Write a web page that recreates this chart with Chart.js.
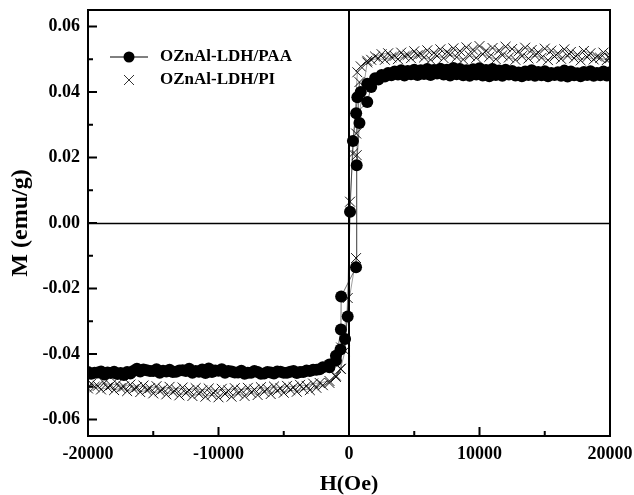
<!DOCTYPE html>
<html>
<head>
<meta charset="utf-8">
<script src="https://cdn.jsdelivr.net/npm/chart.js@4.4.1/dist/chart.umd.min.js"></script>
<style>
  body { margin: 0; background: #fff; }
  #wrap { width: 634px; height: 495px; position: relative; }
</style>
</head>
<body>
<div id="wrap"><canvas id="loop"></canvas></div>
<script>
// field sweep, +20000 -> -20000 (descending branch)
const fieldDown = [
  20000, 19500, 19000, 18500, 18000, 17500, 17000, 16500, 16000, 15500,
  15000, 14500, 14000, 13500, 13000, 12500, 12000, 11500, 11000, 10500,
  10000, 9500, 9000, 8500, 8000, 7500, 7000, 6500, 6000, 5500,
  5000, 4500, 4000, 3500, 3000, 2500, 2000,
  1400, 900, 640, 300, 80, -100, -300, -650, -1000, -1500,
  -2000, -2500, -3000, -3500, -4000, -4500, -5000, -5500, -6000, -6500,
  -7000, -7500, -8000, -8500, -9000, -9500, -10000, -10500, -11000, -11500,
  -12000, -12500, -13000, -13500, -14000, -14500, -15000, -15500, -16000, -16500,
  -17000, -17500, -18000, -18500, -19000, -19500, -20000
];
// field sweep, -20000 -> +20000 (ascending branch)
const fieldUp = [
  -19750, -19250, -18750, -18250, -17750, -17250, -16750, -16250, -15750, -15250,
  -14750, -14250, -13750, -13250, -12750, -12250, -11750, -11250, -10750, -10250,
  -9750, -9250, -8750, -8250, -7750, -7250, -6750, -6250, -5750, -5250,
  -4750, -4250, -3750, -3250, -2750, -2250,
  -1500, -1000, -620, -600, 540, 590, 800, 550, 1400, 1700,
  2250, 2750, 3250, 3750, 4250, 4750, 5250, 5750, 6250, 6750,
  7250, 7750, 8250, 8750, 9250, 9750, 10250, 10750, 11250, 11750,
  12250, 12750, 13250, 13750, 14250, 14750, 15250, 15750, 16250, 16750,
  17250, 17750, 18250, 18750, 19250, 19750, 20000
];

// OZnAl-LDH/PAA, M (emu/g)
const paaDown = [
  0.0460, 0.0462, 0.0458, 0.0463, 0.0461, 0.0457, 0.0462, 0.0465, 0.0460, 0.0458,
  0.0463, 0.0461, 0.0466, 0.0462, 0.0459, 0.0464, 0.0468, 0.0465, 0.0470, 0.0467,
  0.0472, 0.0469, 0.0466, 0.0470, 0.0473, 0.0468, 0.0471, 0.0467, 0.0470, 0.0466,
  0.0468, 0.0464, 0.0466, 0.0462, 0.0458, 0.0452, 0.0442,
  0.0425, 0.0400, 0.0384, 0.0250, 0.0034, -0.0285, -0.0354, -0.0386, -0.0405, -0.0432,
  -0.0440, -0.0448, -0.0452, -0.0455, -0.0458, -0.0454, -0.0457, -0.0453, -0.0456, -0.0459,
  -0.0455, -0.0457, -0.0460, -0.0456, -0.0453, -0.0457, -0.0451, -0.0455, -0.0458, -0.0454,
  -0.0457, -0.0452, -0.0450, -0.0455, -0.0453, -0.0457, -0.0452, -0.0449, -0.0453, -0.0451,
  -0.0455, -0.0458, -0.0454, -0.0456, -0.0453, -0.0457, -0.0455
];
const paaUp = [
  -0.0460, -0.0456, -0.0462, -0.0458, -0.0461, -0.0464, -0.0459, -0.0445, -0.0447, -0.0452,
  -0.0446, -0.0451, -0.0448, -0.0454, -0.0449, -0.0445, -0.0452, -0.0447, -0.0444, -0.0450,
  -0.0446, -0.0452, -0.0456, -0.0451, -0.0457, -0.0452, -0.0460, -0.0455, -0.0459, -0.0454,
  -0.0457, -0.0452, -0.0455, -0.0450, -0.0448, -0.0446,
  -0.0440, -0.0420, -0.0325, -0.0224, -0.0135, 0.0176, 0.0305, 0.0335, 0.0369, 0.0415,
  0.0438, 0.0447, 0.0451, 0.0453, 0.0450, 0.0454, 0.0452, 0.0455, 0.0452, 0.0456,
  0.0453, 0.0450, 0.0454, 0.0451, 0.0449, 0.0453, 0.0450, 0.0448, 0.0452, 0.0449,
  0.0453, 0.0450, 0.0448, 0.0452, 0.0449, 0.0451, 0.0448, 0.0452, 0.0449, 0.0447,
  0.0451, 0.0448, 0.0452, 0.0449, 0.0451, 0.0450, 0.0458
];

// OZnAl-LDH/PI, M (emu/g)
const piDown = [
  0.0512, 0.0520, 0.0508, 0.0518, 0.0525, 0.0514, 0.0522, 0.0530, 0.0518, 0.0526,
  0.0532, 0.0521, 0.0528, 0.0535, 0.0524, 0.0531, 0.0538, 0.0527, 0.0534, 0.0526,
  0.0540, 0.0529, 0.0536, 0.0525, 0.0533, 0.0522, 0.0530, 0.0519, 0.0527, 0.0516,
  0.0524, 0.0513, 0.0520, 0.0510, 0.0518, 0.0515, 0.0508,
  0.0495, 0.0478, 0.0460, 0.0212, 0.0065, -0.0229, -0.0390, -0.0445, -0.0470, -0.0488,
  -0.0495, -0.0503, -0.0510, -0.0506, -0.0515, -0.0509, -0.0518, -0.0512, -0.0522, -0.0515,
  -0.0525, -0.0518, -0.0528, -0.0520, -0.0530, -0.0522, -0.0532, -0.0524, -0.0530, -0.0521,
  -0.0528, -0.0519, -0.0526, -0.0516, -0.0523, -0.0513, -0.0520, -0.0510, -0.0516, -0.0507,
  -0.0513, -0.0504, -0.0510, -0.0502, -0.0508, -0.0500, -0.0505
];
const piUp = [
  -0.0490, -0.0497, -0.0488, -0.0495, -0.0491, -0.0499, -0.0493, -0.0501, -0.0496, -0.0504,
  -0.0498, -0.0506, -0.0500, -0.0508, -0.0502, -0.0510, -0.0504, -0.0511, -0.0505, -0.0512,
  -0.0506, -0.0511, -0.0504, -0.0510, -0.0503, -0.0508, -0.0501, -0.0506, -0.0499, -0.0504,
  -0.0497, -0.0501, -0.0494, -0.0497, -0.0490, -0.0488,
  -0.0482, -0.0466, -0.0445, -0.0380, -0.0107, 0.0207, 0.0430, 0.0273, 0.0490, 0.0498,
  0.0502, 0.0498, 0.0506, 0.0500, 0.0509, 0.0503, 0.0512, 0.0505, 0.0498, 0.0510,
  0.0503, 0.0514, 0.0506, 0.0499, 0.0511, 0.0504, 0.0515, 0.0507, 0.0500, 0.0512,
  0.0505, 0.0498, 0.0509, 0.0502, 0.0511, 0.0504, 0.0497, 0.0508, 0.0501, 0.0510,
  0.0503, 0.0496, 0.0506, 0.0499, 0.0504, 0.0497, 0.0503
];

const seriesNames = ['OZnAl-LDH/PAA', 'OZnAl-LDH/PI'];
const xTicks = [-20000, -10000, 0, 10000, 20000];
const xMinor = [-15000, -5000, 5000, 15000];
const yTicks = [-0.06, -0.04, -0.02, 0.00, 0.02, 0.04, 0.06];
const yMinor = [-0.05, -0.03, -0.01, 0.01, 0.03, 0.05];

const FONT = "'Liberation Serif', 'Times New Roman', serif";

function pairs(fields, moments) {
  return fields.map((h, i) => ({ x: h, y: moments[i] }));
}

// box, zero lines, inward ticks and the legend
const frame = {
  id: 'frame',
  beforeDatasetsDraw(chart) {
    const { ctx, chartArea: a, scales: { x, y } } = chart;
    ctx.save();
    ctx.strokeStyle = '#000';
    ctx.lineWidth = 1.3;
    const y0 = Math.round(y.getPixelForValue(0)) + 0.5;
    ctx.beginPath(); ctx.moveTo(a.left, y0); ctx.lineTo(a.right, y0); ctx.stroke();
    ctx.lineWidth = 2;
    const x0 = Math.round(x.getPixelForValue(0));
    ctx.beginPath(); ctx.moveTo(x0, a.top); ctx.lineTo(x0, a.bottom); ctx.stroke();
    ctx.restore();
  },
  afterDraw(chart) {
    const { ctx, chartArea: a, scales: { x, y } } = chart;
    ctx.save();
    ctx.strokeStyle = '#000';
    ctx.lineWidth = 2;
    ctx.strokeRect(a.left, a.top, a.right - a.left, a.bottom - a.top);

    ctx.beginPath();
    xTicks.forEach(v => { const p = x.getPixelForValue(v); ctx.moveTo(p, a.bottom); ctx.lineTo(p, a.bottom - 9); });
    xMinor.forEach(v => { const p = x.getPixelForValue(v); ctx.moveTo(p, a.bottom); ctx.lineTo(p, a.bottom - 5); });
    yTicks.forEach(v => { const p = y.getPixelForValue(v); ctx.moveTo(a.left, p); ctx.lineTo(a.left + 9, p); });
    yMinor.forEach(v => { const p = y.getPixelForValue(v); ctx.moveTo(a.left, p); ctx.lineTo(a.left + 5, p); });
    ctx.stroke();

    // legend
    ctx.lineWidth = 1;
    ctx.beginPath(); ctx.moveTo(110, 57); ctx.lineTo(148, 57); ctx.stroke();
    ctx.fillStyle = '#000';
    ctx.beginPath(); ctx.arc(129, 57, 5.5, 0, Math.PI * 2); ctx.fill();
    ctx.lineWidth = 0.8;
    ctx.beginPath();
    ctx.moveTo(124, 75); ctx.lineTo(134, 85);
    ctx.moveTo(134, 75); ctx.lineTo(124, 85);
    ctx.stroke();
    ctx.font = 'bold 17px ' + FONT;
    ctx.textBaseline = 'middle';
    ctx.textAlign = 'left';
    ctx.fillText(seriesNames[0], 160, 57);
    ctx.fillText(seriesNames[1], 160, 80);
    ctx.restore();
  }
};

window.onload = function () {
  const ctx = document.getElementById('loop').getContext('2d');
  new Chart(ctx, {
    type: 'scatter',
    data: {
      datasets: [
        {
          label: seriesNames[0],
          data: pairs(fieldDown, paaDown).concat(pairs(fieldUp, paaUp)),
          showLine: true,
          borderColor: 'rgba(0,0,0,0.7)',
          borderWidth: 0.8,
          pointStyle: 'circle',
          pointRadius: 6,
          pointBackgroundColor: '#000',
          pointBorderColor: '#000',
          pointBorderWidth: 0,
          order: 1
        },
        {
          label: seriesNames[1],
          data: pairs(fieldDown, piDown).concat(pairs(fieldUp, piUp)),
          showLine: true,
          borderColor: 'rgba(0,0,0,0.55)',
          borderWidth: 0.7,
          pointStyle: 'crossRot',
          pointRadius: 7,
          pointBorderColor: '#000',
          pointBorderWidth: 0.9,
          order: 2
        }
      ]
    },
    options: {
      responsive: true,
      maintainAspectRatio: false,
      animation: false,
      layout: { padding: { left: 0, right: 24, top: 10, bottom: 0 } },
      plugins: { legend: { display: false }, tooltip: { enabled: false } },
      scales: {
        x: {
          type: 'linear',
          min: -20000,
          max: 20000,
          afterBuildTicks: s => { s.ticks = xTicks.map(v => ({ value: v })); },
          afterFit: s => { s.height = 59; s.paddingLeft = 0; s.paddingRight = 0; },
          grid: { display: false, drawTicks: false },
          border: { display: false },
          ticks: {
            padding: 8,
            color: '#000',
            font: { family: FONT, size: 18, weight: 'bold' },
            maxRotation: 0,
            callback: v => String(v)
          },
          title: {
            display: true,
            text: 'H(Oe)',
            color: '#000',
            font: { family: FONT, size: 22, weight: 'bold', lineHeight: 1 },
            padding: { top: 0, bottom: 0 }
          }
        },
        y: {
          min: -0.065,
          max: 0.065,
          afterBuildTicks: s => { s.ticks = yTicks.map(v => ({ value: v })); },
          afterFit: s => { s.width = 88; s.paddingTop = 0; s.paddingBottom = 0; },
          grid: { display: false, drawTicks: false },
          border: { display: false },
          ticks: {
            padding: 8,
            color: '#000',
            font: { family: FONT, size: 18, weight: 'bold' },
            callback: v => v.toFixed(2)
          },
          title: {
            display: true,
            text: 'M (emu/g)',
            color: '#000',
            font: { family: FONT, size: 24, weight: 'bold', lineHeight: 1.2 },
            padding: { top: 6, bottom: 0 }
          }
        }
      }
    },
    plugins: [frame]
  });
};
</script>
</body>
</html>
